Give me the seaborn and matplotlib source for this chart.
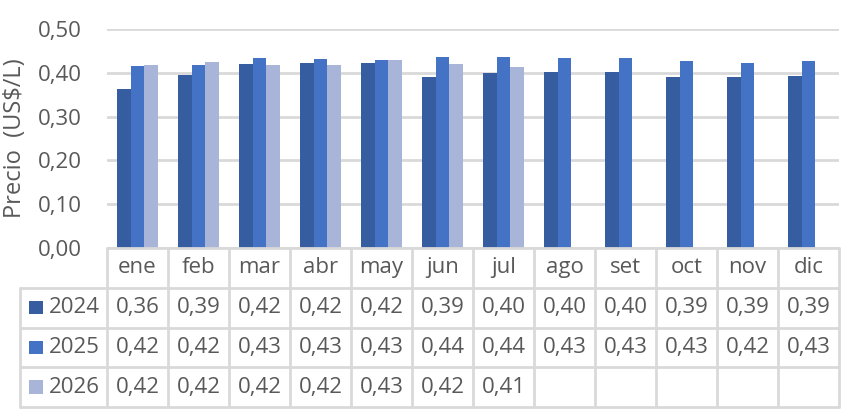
import numpy as np
import pandas as pd
import seaborn as sns
import matplotlib
matplotlib.use("Agg")
import matplotlib.pyplot as plt

# datos
meses = ["ene", "feb", "mar", "abr", "may", "jun", "jul", "ago", "set", "oct", "nov", "dic"]
anios = ["2024", "2025", "2026"]
p2024 = [0.363, 0.394, 0.420, 0.422, 0.422, 0.390, 0.400, 0.402, 0.402, 0.390, 0.390, 0.393]
p2025 = [0.4155, 0.418, 0.434, 0.432, 0.429, 0.436, 0.436, 0.434, 0.434, 0.427, 0.422, 0.426]
p2026 = [0.418, 0.425, 0.418, 0.418, 0.429, 0.420, 0.413]
y_ticks = [0.0, 0.1, 0.2, 0.3, 0.4, 0.5]

colores = ["#365DA0", "#4472C4", "#A8B4D8"]
gris = "#595959"
linea = "#D9D9D9"

series = [p2024, p2025, p2026 + [np.nan] * (12 - len(p2026))]
df = pd.DataFrame({
    "mes": meses * 3,
    "anio": [a for a in anios for _ in meses],
    "precio": [v for s in series for v in s],
})

sns.set_style("white")
plt.rcParams["font.family"] = ["Open Sans", "DejaVu Sans"]
fs = 16

W, H = 851, 412
fig = plt.figure(figsize=(W / 100, H / 100), dpi=100)

# zona del gráfico (en píxeles)
x0, x1 = 107, 839
y_top, y_0 = 29, 248
ax = fig.add_axes([x0 / W, (H - y_0) / H, (x1 - x0) / W, (y_0 - y_top) / H])
sns.barplot(data=df, x="mes", y="precio", hue="anio", order=meses, hue_order=anios,
            palette=colores, width=0.67, gap=0, saturation=1, linewidth=0,
            legend=False, ax=ax)
ax.set_xlim(-0.5, 11.5)
ax.set_ylim(0, 0.5)
ax.set_yticks(y_ticks)
ax.set_yticklabels([f"{t:.2f}".replace(".", ",") for t in y_ticks], fontsize=fs, color=gris)
ax.tick_params(axis="y", length=0, pad=18)
ax.set_xticks([])
ax.set_xlabel("")
ax.set_ylabel("")
ax.grid(axis="y", color=linea, linewidth=2)
ax.set_axisbelow(True)
for s in ax.spines.values():
    s.set_visible(False)
fig.text(15 / W, (H - 138) / H, "Precio  (US$/L)", rotation=90, ha="center", va="center",
         fontsize=17, color=gris)

# tabla de datos
t_bot = 407
tab = fig.add_axes([x0 / W, (H - t_bot) / H, (x1 - x0) / W, (t_bot - y_0) / H])
tab.set_xlim(-0.5, 11.5)
tab.set_ylim(4, 0)
tab.axis("off")
x_izq = -0.5 - (x0 - 20) / ((x1 - x0) / 12)
kw = dict(color=linea, linewidth=2, clip_on=False)
tab.plot([-0.5, 11.5], [0, 0], **kw)
for r in range(1, 5):
    tab.plot([x_izq, 11.5], [r, r], **kw)
for k in range(13):
    tab.plot([k - 0.5, k - 0.5], [0, 4], **kw)
tab.plot([x_izq, x_izq], [1, 4], **kw)

for i, m in enumerate(meses):
    tab.text(i, 0.5, m, ha="center", va="center", fontsize=fs, color=gris)
for r, (a, s, c) in enumerate(zip(anios, series, colores), start=1):
    yc = r + 0.5
    tab.add_patch(plt.Rectangle((x_izq + 0.14, yc - 0.17), 0.23, 0.34,
                                facecolor=c, linewidth=0, clip_on=False))
    tab.text(x_izq + 0.47, yc, a, ha="left", va="center", fontsize=fs, color=gris)
    for i, v in enumerate(s):
        if not np.isnan(v):
            tab.text(i, yc, f"{v:.2f}".replace(".", ","), ha="center", va="center",
                     fontsize=fs, color=gris)

fig.savefig("out.png", dpi=100)
